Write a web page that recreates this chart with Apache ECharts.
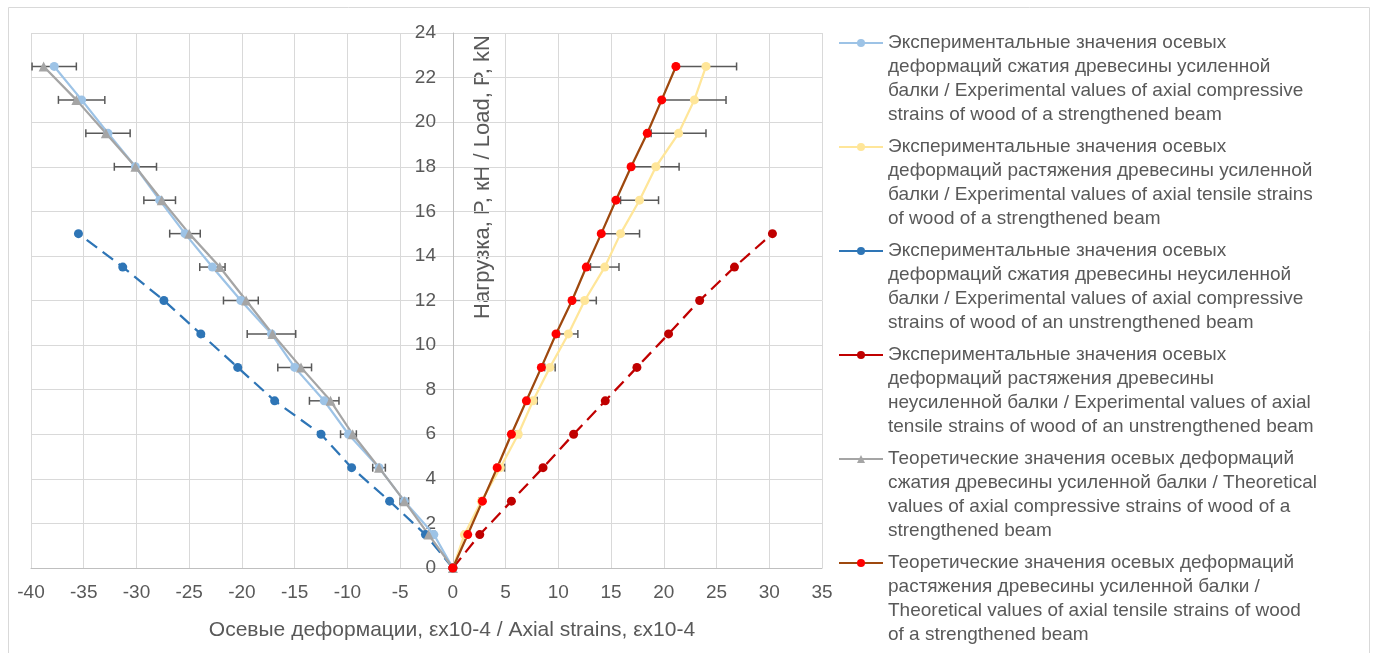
<!DOCTYPE html>
<html lang="ru">
<head>
  <meta charset="UTF-8">
  <title>Осевые деформации</title>
  <script src="https://cdn.jsdelivr.net/npm/echarts@6/dist/echarts.min.js"></script>
  <style>
    html,body{padding:0;margin:0;background:#fff;}
    #box{width:1378px;height:653px;}
  </style>
</head>
<body>
  <div id="box"></div>
  <script>
    // нагрузка P, кН
    var loads = [0, 1.5, 3, 4.5, 6, 7.5, 9, 10.5, 12, 13.5, 15, 16.5, 18, 19.5, 21, 22.5];

    // деформации, ex10-4
    var expCompStr    = [0, -1.8, -4.6, -7.0, -9.9, -12.2, -15.0, -17.2, -20.1, -22.8, -25.4, -27.8, -30.1, -32.7, -35.2, -37.8];
    var expCompStrErr = [0, 0.1, 0.4, 0.6, 0.75, 1.4, 1.6, 2.3, 1.65, 1.2, 1.45, 1.5, 2.0, 2.1, 2.2, 2.1];
    var expTensStr    = [0, 1.1, 2.7, 4.5, 6.2, 7.6, 9.2, 10.95, 12.5, 14.4, 15.9, 17.7, 19.25, 21.4, 22.9, 24.0];
    var expTensStrErr = [0, 0.1, 0.2, 0.4, 0.2, 0.4, 0.5, 0.9, 1.1, 1.35, 1.8, 1.8, 2.2, 2.6, 3.0, 2.9];
    var expCompUnstr  = [0, -2.6, -6.0, -9.6, -12.5, -16.9, -20.4, -23.9, -27.4, -31.3, -35.5];
    var expTensUnstr  = [0, 2.55, 5.55, 8.55, 11.45, 14.45, 17.45, 20.45, 23.4, 26.7, 30.3];
    var theoComp      = [0, -2.3, -4.6, -7.0, -9.5, -11.6, -14.4, -17.1, -19.6, -22.1, -25.0, -27.6, -30.1, -32.9, -35.7, -38.8];
    var theoTens      = [0, 1.41, 2.8, 4.2, 5.55, 6.97, 8.39, 9.78, 11.3, 12.65, 14.07, 15.46, 16.9, 18.43, 19.8, 21.15];

    var names = [
      'Экспериментальные значения осевых\nдеформаций сжатия древесины усиленной\nбалки / Experimental values of axial compressive\nstrains of wood of a strengthened beam',
      'Экспериментальные значения осевых\nдеформаций растяжения древесины усиленной\nбалки / Experimental values of axial tensile strains\nof wood of a strengthened beam',
      'Экспериментальные значения осевых\nдеформаций сжатия древесины неусиленной\nбалки / Experimental values of axial compressive\nstrains of wood of an unstrengthened beam',
      'Экспериментальные значения осевых\nдеформаций растяжения древесины\nнеусиленной балки / Experimental values of axial\ntensile strains of wood of an unstrengthened beam',
      'Теоретические значения осевых деформаций\nсжатия древесины усиленной балки / Theoretical\nvalues of axial compressive strains of wood of a\nstrengthened beam',
      'Теоретические значения осевых деформаций\nрастяжения древесины усиленной балки /\nTheoretical values of axial tensile strains of wood\nof a strengthened beam'
    ];
    var xTitle = 'Осевые деформации, εх10-4 / Axial strains, εх10-4';
    var yTitle = 'Нагрузка, P, кН / Load, P, kN';

    var font = '"Liberation Sans", Arial, sans-serif';
    var txt = '#595959';

    function pairs(xs) {
      return xs.map(function (v, i) { return [v, loads[i]]; });
    }
    function errPairs(xs, es) {
      return xs.map(function (v, i) { return [v, loads[i], es[i]]; });
    }

    // горизонтальные планки погрешностей
    function errBar(params, api) {
      var x = api.value(0), y = api.value(1), e = api.value(2);
      if (!e) return null;
      var a = api.coord([x - e, y]), b = api.coord([x + e, y]);
      var st = {stroke: '#595959', lineWidth: 1.5};
      return {
        type: 'group',
        children: [
          {type: 'line', shape: {x1: a[0], y1: a[1], x2: b[0], y2: b[1]}, style: st},
          {type: 'line', shape: {x1: a[0], y1: a[1] - 4, x2: a[0], y2: a[1] + 4}, style: st},
          {type: 'line', shape: {x1: b[0], y1: b[1] - 4, x2: b[0], y2: b[1] + 4}, style: st}
        ]
      };
    }

    function lineSeries(name, data, color, opts) {
      var s = {
        name: name,
        type: 'line',
        data: data,
        symbol: 'circle',
        symbolSize: 9,
        color: color,
        lineStyle: {width: 2.25, color: color},
        itemStyle: {color: color},
        emphasis: {disabled: true},
        animation: false
      };
      for (var k in opts) s[k] = opts[k];
      return s;
    }

    var option = {
      animation: false,
      textStyle: {fontFamily: font},
      grid: {left: 31, right: 556, top: 33, bottom: 85, containLabel: false, outerBoundsMode: 'none'},
      legend: {
        orient: 'vertical',
        left: 838,
        top: -41,
        padding: 0,
        itemWidth: 44,
        itemHeight: 10,
        itemGap: -64,
        selectedMode: false,
        lineStyle: {type: 'solid'},
        // три пустые строки сверху, чтобы значок стоял у первой строки подписи
        formatter: function (name) { return '\n\n\n' + name; },
        textStyle: {color: txt, fontSize: 19, lineHeight: 24, fontFamily: font},
        data: names
      },
      xAxis: {
        type: 'value',
        min: -40,
        max: 35,
        interval: 5,
        axisLine: {onZero: false, lineStyle: {color: '#bfbfbf', width: 1}},
        axisTick: {show: false},
        axisLabel: {color: txt, fontSize: 19, margin: 15, fontFamily: font},
        splitLine: {lineStyle: {color: '#d9d9d9', width: 1}}
      },
      yAxis: {
        type: 'value',
        min: 0,
        max: 24,
        interval: 2,
        position: 'left',
        offset: -422,
        axisLine: {show: true, onZero: false, lineStyle: {color: '#bfbfbf', width: 1}},
        axisTick: {show: false},
        axisLabel: {color: txt, fontSize: 19, margin: 17, fontFamily: font},
        splitLine: {lineStyle: {color: '#d9d9d9', width: 1}}
      },
      graphic: [
        {
          type: 'rect', left: 6, top: 5, z: -10, silent: true,
          shape: {width: 1361, height: 660},
          style: {fill: 'none', stroke: '#d9d9d9', lineWidth: 1}
        },
        {
          type: 'text', x: 483, y: 177, rotation: Math.PI / 2, silent: true,
          style: {
            text: yTitle,
            fill: txt, fontSize: 22, fontFamily: font,
            align: 'center', verticalAlign: 'middle'
          }
        },
        {
          type: 'text', x: 452, y: 630, silent: true,
          style: {
            text: xTitle,
            fill: txt, fontSize: 21, fontFamily: font,
            align: 'center', verticalAlign: 'middle'
          }
        }
      ],
      series: [
        {type: 'custom', name: 'err1', renderItem: errBar, encode: {x: 0, y: 1}, data: errPairs(expCompStr, expCompStrErr), z: 2, silent: true},
        lineSeries(names[0], pairs(expCompStr), '#9DC3E6', {z: 2}),
        {type: 'custom', name: 'err2', renderItem: errBar, encode: {x: 0, y: 1}, data: errPairs(expTensStr, expTensStrErr), z: 2, silent: true},
        lineSeries(names[1], pairs(expTensStr), '#FFE699', {z: 2}),
        lineSeries(names[2], pairs(expCompUnstr), '#2E75B6', {z: 2, lineStyle: {width: 2.25, color: '#2E75B6', type: [13, 7]}}),
        lineSeries(names[3], pairs(expTensUnstr), '#C00000', {z: 2, lineStyle: {width: 2.25, color: '#C00000', type: [13, 7]}}),
        lineSeries(names[4], pairs(theoComp), '#A5A5A5', {z: 2, symbol: 'triangle', symbolSize: 10}),
        lineSeries(names[5], pairs(theoTens), '#FF0000', {z: 2, lineStyle: {width: 2.25, color: '#9E480E'}})
      ]
    };

    var chart = echarts.init(document.getElementById('box'));
    chart.setOption(option);
  </script>
</body>
</html>
